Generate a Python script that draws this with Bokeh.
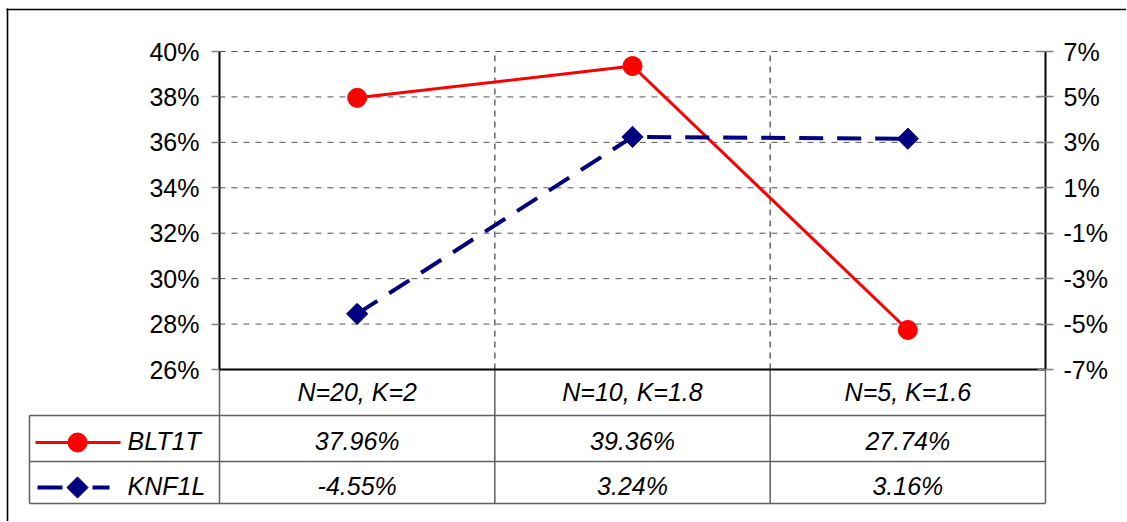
import numpy as np
from bokeh.plotting import figure
from bokeh.models import Range1d, LinearAxis, FixedTicker, NumeralTickFormatter, Grid
from bokeh.core.properties import value
from bokeh.embed import file_html
from bokeh.resources import INLINE

# ---------------- data ----------------
categories = ["N=20, K=2", "N=10, K=1.8", "N=5, K=1.6"]
series_names = ["BLT1T", "KNF1L"]
blt1t = [37.96, 39.36, 27.74]      # % (left axis)
knf1l = [-4.55, 3.24, 3.16]        # % (right axis)
left_ticks = [26, 28, 30, 32, 34, 36, 38, 40]
right_ticks = [-7, -5, -3, -1, 1, 3, 5, 7]

# ---------------- style / layout (page pixels) ----------------
FONT = "Liberation Sans"
RED = "#ff0000"
NAVY = "#000080"
GRID = "#555555"
TABLE = "#606060"

PAGE_L, PAGE_T = 0, 0
W, H = 1126, 521
FRAME_L, FRAME_R = 219, 1045     # chart plot area, x
FRAME_T, FRAME_B = 51, 369       # chart plot area, y
n = len(categories)
SC = (FRAME_R - FRAME_L) / n     # px per category

lo_l, hi_l = left_ticks[0] / 100, left_ticks[-1] / 100
lo_r, hi_r = right_ticks[0] / 100, right_ticks[-1] / 100
kl = (hi_l - lo_l) / (FRAME_B - FRAME_T)
kr = (hi_r - lo_r) / (FRAME_B - FRAME_T)


def tx(px):
    return (px - FRAME_L) / SC


def ty(py):
    return 504 - py


def yl(py):
    return hi_l - (py - FRAME_T) * kl


def yr(py):
    return hi_r - (py - FRAME_T) * kr


x_lo, x_hi = tx(PAGE_L), tx(PAGE_L + W)
p = figure(width=W, height=H,
           x_range=Range1d(x_lo, x_hi),
           y_range=Range1d(yl(PAGE_T + H), yl(PAGE_T)),
           x_axis_location=None, y_axis_location=None,
           toolbar_location=None, output_backend="svg",
           min_border_left=0, min_border_right=0, min_border_top=0, min_border_bottom=0,
           outline_line_color=None,
           background_fill_color="white", border_fill_color="white")
p.extra_y_ranges = {"right": Range1d(yr(PAGE_T + H), yr(PAGE_T)),
                    "tbl": Range1d(ty(PAGE_T + H), ty(PAGE_T))}
p.center = [r for r in p.center if not isinstance(r, Grid)]

# ---------------- outer frame (top & left) ----------------
p.segment(x0=[tx(6)], y0=[ty(9)], x1=[x_hi], y1=[ty(9)], y_range_name="tbl",
          line_color="black", line_width=1.6)
p.segment(x0=[tx(7)], y0=[ty(8)], x1=[tx(7)], y1=[ty(PAGE_T + H)], y_range_name="tbl",
          line_color="black", line_width=1.6)

# ---------------- gridlines ----------------
lt = [t / 100 for t in left_ticks]
p.segment(x0=[0] * len(lt), y0=lt, x1=[n] * len(lt), y1=lt,
          line_color=GRID, line_dash="6 6", line_width=1)
bx = list(range(1, n))
p.segment(x0=bx, y0=[lo_l] * len(bx), x1=bx, y1=[hi_l] * len(bx),
          line_color="#666666", line_dash="6 5", line_width=1.5)


# ---------------- axes ----------------
def style_axis(ax, tin, tout):
    ax.axis_line_color = "black"
    ax.axis_line_width = 2
    ax.major_tick_line_color = "#808080"
    ax.major_tick_line_width = 1.5
    ax.major_tick_in = tin
    ax.major_tick_out = tout
    ax.minor_tick_line_color = None
    ax.major_label_text_font = FONT
    ax.major_label_text_font_size = "25px"
    ax.major_label_text_color = "black"


ax_l = LinearAxis(ticker=FixedTicker(ticks=lt), formatter=NumeralTickFormatter(format="0%"),
                  fixed_location=0, bounds=(lo_l, hi_l))
style_axis(ax_l, 0, 8)
ax_l.major_label_standoff = 12
p.add_layout(ax_l, "left")

ax_r = LinearAxis(y_range_name="right",
                  ticker=FixedTicker(ticks=[t / 100 for t in right_ticks]),
                  formatter=NumeralTickFormatter(format="0%"),
                  fixed_location=n, bounds=(lo_r, hi_r))
style_axis(ax_r, 8, 8)
ax_r.major_label_standoff = 10
p.add_layout(ax_r, "right")

# ---------------- series ----------------
xs = [i + 0.5 for i in range(n)]
yb = [v / 100 for v in blt1t]
yk = [v / 100 for v in knf1l]
p.line(xs, yb, line_color=RED, line_width=3)
p.scatter(xs, yb, marker="circle", size=19, fill_color=RED, line_color=RED)
p.line(xs, yk, y_range_name="right", line_color=NAVY, line_width=4, line_dash="24 14")
p.scatter(xs, yk, y_range_name="right", marker="square", angle=np.pi / 4, size=15,
          fill_color=NAVY, line_color=NAVY)

# ---------------- data table ----------------
T = dict(y_range_name="tbl")
hy = [ty(415), ty(461), ty(503)]
p.segment(x0=[tx(29)] * 3, y0=hy, x1=[n] * 3, y1=hy, line_color=TABLE, line_width=1.5, **T)
p.segment(x0=[tx(29)], y0=[ty(415)], x1=[tx(29)], y1=[ty(503)], line_color=TABLE,
          line_width=1.5, **T)
vx = list(range(0, n + 1))
p.segment(x0=vx, y0=[ty(FRAME_B)] * len(vx), x1=vx, y1=[ty(503)] * len(vx),
          line_color=TABLE, line_width=1.5, **T)
# category axis line
p.segment(x0=[0], y0=[lo_l], x1=[n], y1=[lo_l], line_color="black", line_width=2)

txt = dict(text_font=value(FONT), text_font_style="italic", text_font_size="25px",
           text_color="black", text_baseline="middle", y_range_name="tbl")
p.text(x=xs, y=[ty(391)] * n, text=categories, text_align="center", **txt)
p.text(x=xs, y=[ty(440)] * n, text=[f"{v:.2f}%" for v in blt1t], text_align="center", **txt)
p.text(x=xs, y=[ty(485)] * n, text=[f"{v:.2f}%" for v in knf1l], text_align="center", **txt)
p.text(x=[tx(127)] * 2, y=[ty(440), ty(485)], text=series_names, text_align="left", **txt)

# legend keys
p.segment(x0=[tx(35)], y0=[ty(442)], x1=[tx(120)], y1=[ty(442)], line_color=RED,
          line_width=3, **T)
p.scatter([tx(77)], [ty(442)], marker="circle", size=19, fill_color=RED, line_color=RED, **T)
p.segment(x0=[tx(37), tx(92)], y0=[ty(487)] * 2, x1=[tx(62), tx(109)], y1=[ty(487)] * 2,
          line_color=NAVY, line_width=4, **T)
p.scatter([tx(77)], [ty(487)], marker="square", angle=np.pi / 4, size=15,
          fill_color=NAVY, line_color=NAVY, **T)

open("out.html", "w").write(file_html(p, INLINE))
